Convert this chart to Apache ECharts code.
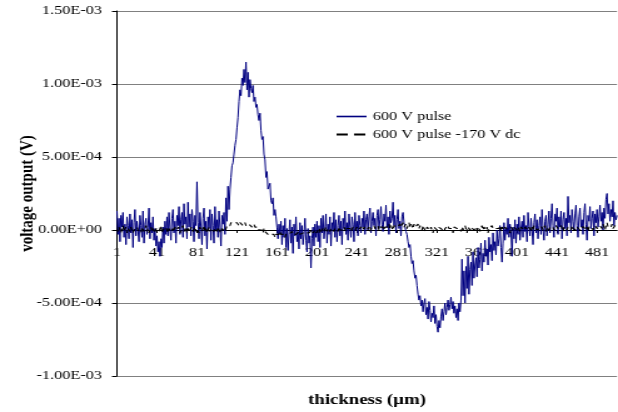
<!DOCTYPE html>
<html>
<head>
<meta charset="utf-8">
<script src="https://cdn.jsdelivr.net/npm/echarts@6/dist/echarts.min.js"></script>
<style>
  html, body { margin: 0; padding: 0; background: #fff; overflow: hidden; }
  /* chart is laid out narrower and widened horizontally, giving the wide serif lettering */
  #chart { width: 494px; height: 412px; transform: scaleX(1.2510); transform-origin: 0 0; }
</style>
</head>
<body>
<div id="chart"></div>
<script>
// Signal values in units of 1e-5 V, one per thickness step (1 ... 501 µm)
const UNIT = 1e-5;

const pulse600 = [
  13,-3,8,-8,10,2,12,-5,4,-10,9,3,-6,11,-2,7,-12,5,14,-4,
  6,0,-8,10,3,-5,13,-9,4,8,-3,2,15,-6,5,-2,9,-7,1,-11,
  -4,-15,-8,-18,-6,-12,2,-9,6,-3,
  9,-4,12,1,-7,8,14,-2,6,-9,10,3,16,-3,7,12,-5,18,4,9,
  -6,19,2,11,-4,14,6,-8,10,3,
  33,5,-6,12,2,-10,8,15,-4,6,-13,9,1,14,-7,11,3,-9,16,0,
  7,-5,13,2,-11,10,4,12,-3,22,6,30,14,
  28,36,44,46,52,58,62,70,77,88,96,92,104,99,110,101,115,
  96,108,91,103,97,94,99,88,91,84,
  86,79,75,80,68,62,64,52,48,36,40,28,27,32,20,18,22,10,14,9,2,-6,4,-3,
  6,-10,3,-5,8,-12,1,-14,-2,7,-9,2,-16,4,-4,9,-8,-1,-13,5,
  -6,3,-10,-3,8,-7,-15,1,-9,-4,-26,-6,2,-11,4,-5,
  6,-8,3,-12,8,-2,10,-6,1,11,-9,4,-3,9,-11,5,0,12,-5,7,
  -8,3,10,-4,6,-10,8,1,13,-3,5,-7,11,2,-5,9,4,-8,12,0,
  6,-4,10,3,-2,
  8,2,13,-3,7,11,0,9,15,-2,6,12,3,8,-4,10,14,1,7,16,
  4,-1,11,6,17,2,9,-3,13,5,8,19,3,10,-2,7,14,1,6,-4,
  9,12,5,2,-1,
  -3,-8,-12,-10,-18,-23,-21,-28,-33,-31,-38,-44,-48,
  -45,-52,-48,-56,-50,-47,-58,-53,-61,-49,-55,-63,-57,-60,-52,-64,-58,-66,-70,-62,
  -67,-59,-54,-62,-56,-50,-58,-53,-48,-55,-51,-46,-54,-49,-57,-52,-60,-54,-62,-50,
  -56,-48,
  -20,-45,-28,-50,-25,-40,-18,-44,-27,-22,-38,-15,-33,-24,-19,-32,-12,-26,-20,-9,
  -28,-16,-22,-7,-18,-13,-24,-5,-15,-10,-21,-2,-14,-8,-17,0,-11,-6,3,-12,
  -22,-9,5,-7,1,-3,8,-5,4,-1,
  -18,2,-6,7,-9,
  4,-3,9,-7,1,6,-5,10,-1,3,-8,12,2,-4,8,0,-10,5,11,-2,
  7,-6,3,9,-3,14,1,-7,6,10,-4,4,13,-2,8,18,3,-5,11,6,
  15,-3,9,2,13,-6,7,12,1,8,-4,23,5,10,-2,14,6,0,11,17,
  3,-5,9,15,2,7,-3,12,18,4,-7,10,6,16,1,8,13,-4,11,5,
  14,2,9,17,6,12,0,15,8,21,25,11,18,6,14,9,20,3,12,7,10
];

const pulse600dc170 = [
  1,-1,2,0,-2,1,3,-1,0,2,-2,1,0,-1,2,1,-2,0,1,-1,
  2,0,-1,1,-2,2,1,-1,0,3,-1,1,-2,0,2,-1,1,0,-2,1,
  0,2,-1,1,3,-2,0,1,-1,2,0,-2,1,2,-1,0,1,-1,2,0,
  -1,1,2,-2,0,1,3,-1,0,2,-2,1,0,-1,2,1,-1,0,2,-1,
  1,0,-2,2,1,-1,0,3,-1,1,-2,0,2,-1,1,0,2,-1,1,0,
  -1,2,0,1,-2,1,2,0,-1,1,3,2,4,3,5,4,6,5,4,6,
  5,4,3,5,4,6,3,4,5,3,4,2,4,3,5,2,3,4,2,3,
  1,2,0,1,-1,0,-2,1,-1,0,-2,-3,-2,-4,-3,-2,-4,-3,-5,-3,
  -2,-4,-3,-1,-3,-4,-2,-3,-5,-3,-2,-4,-3,-2,-4,-1,-3,-2,-4,-3,
  -2,-3,-1,-3,-2,-4,-2,-1,-3,-2,-1,-3,-2,-1,-2,0,-2,-1,0,-2,
  -1,0,-2,1,-1,0,1,-1,0,2,-1,1,0,-1,1,0,2,-1,1,0,
  1,-1,2,0,1,-1,0,2,1,-1,1,0,2,1,-1,0,2,1,0,1,
  2,0,1,-1,2,1,0,2,1,3,0,1,2,-1,1,2,0,3,1,2,
  1,3,0,2,1,3,2,0,2,3,1,2,4,1,3,2,0,3,2,4,
  2,3,1,4,2,3,5,2,3,4,1,3,5,2,4,3,1,4,2,3,
  2,4,1,3,2,0,3,1,2,-1,2,1,3,0,2,1,-2,2,1,3,
  0,2,1,3,1,0,2,-1,1,2,0,3,1,2,0,1,-2,2,1,3,
  1,0,2,1,-1,2,0,1,3,1,-2,2,1,0,2,1,3,0,1,2,
  0,1,2,-1,1,3,0,2,1,0,2,-2,1,2,0,3,1,2,0,1,
  2,0,1,3,-1,2,1,0,2,1,3,0,1,-2,2,1,0,2,3,1,
  0,2,1,-1,2,3,1,0,2,1,3,0,2,1,-1,2,0,3,1,2,
  1,0,2,3,1,2,0,1,3,-1,2,1,0,2,3,1,2,0,1,3,
  2,1,0,2,3,1,-1,2,1,3,0,2,1,2,0,3,1,2,1,0,
  2,3,1,0,2,1,3,2,0,1,2,-1,2,3,1,2,0,1,3,2,
  1,2,0,3,2,1,4,2,0,3,5,2,1,3,2,4,1,2,3,2,
  2
];

// Thickness categories 1 ... 501 µm
const thickness = Array.from({ length: pulse600.length }, (_, i) => String(i + 1));

const seriesNames = ['600 V pulse', '600 V pulse -170 V dc'];
const yTicks = { min: -0.001, max: 0.0015, step: 0.0005 };

function sci(v) {
  if (Math.abs(v) < 1e-12) return '0.00E+00';
  const e = Math.floor(Math.log10(Math.abs(v)) + 1e-9);
  const m = v / Math.pow(10, e);
  return m.toFixed(2) + 'E' + (e < 0 ? '-' : '+') + String(Math.abs(e)).padStart(2, '0');
}

const FONT = '"Liberation Serif", "Times New Roman", serif';
const GRID = { left: 93.5, right: 0.8, top: 11, bottom: 36 };
const H = 412;
// distance from the plot's bottom edge up to the zero line
const plotH = H - GRID.top - GRID.bottom;
const zeroLift = plotH * (0 - yTicks.min) / (yTicks.max - yTicks.min);

const chart = echarts.init(document.getElementById('chart'), null, { renderer: 'canvas' });

chart.setOption({
  animation: false,
  backgroundColor: '#ffffff',
  textStyle: { fontFamily: FONT, color: '#000' },
  grid: Object.assign({ containLabel: false, outerBoundsMode: 'none' }, GRID),
  legend: {
    show: true,
    orient: 'vertical',
    left: 268,
    top: 110,
    padding: 0,
    itemWidth: 24,
    itemHeight: 14,
    itemGap: 5,
    itemStyle: { opacity: 0, color: 'transparent', borderWidth: 0 },
    textStyle: { fontFamily: FONT, fontSize: 13, color: '#000' },
    data: [
      { name: seriesNames[0], lineStyle: { width: 1.6 } },
      { name: seriesNames[1], lineStyle: { width: 2, type: [9, 5] } }
    ]
  },
  xAxis: {
    type: 'category',
    data: thickness,
    boundaryGap: false,
    position: 'bottom',
    offset: -zeroLift,
    name: 'thickness (\u00b5m)',
    nameLocation: 'middle',
    nameGap: 163,
    nameMoveOverlap: false,
    nameTextStyle: { fontFamily: FONT, fontSize: 15, fontWeight: 'bold', color: '#000' },
    axisLine: { onZero: false, lineStyle: { color: '#000', width: 1 } },
    axisTick: { show: true, interval: 39, length: 3, lineStyle: { color: '#000' } },
    axisLabel: { interval: 39, margin: 16, fontFamily: FONT, fontSize: 13, color: '#000' },
    splitLine: { show: false }
  },
  yAxis: {
    type: 'value',
    min: yTicks.min,
    max: yTicks.max,
    interval: yTicks.step,
    name: 'voltage output (V)',
    nameLocation: 'middle',
    nameGap: 64,
    nameMoveOverlap: false,
    nameTextStyle: { fontFamily: FONT, fontSize: 15, fontWeight: 'bold', color: '#000' },
    axisLine: { show: true, onZero: false, lineStyle: { color: '#000', width: 1 } },
    axisTick: { show: true, length: 4, lineStyle: { color: '#000' } },
    axisLabel: { margin: 12, fontFamily: FONT, fontSize: 13, color: '#000', formatter: sci },
    splitLine: { show: true, lineStyle: { color: '#808080', width: 1 } }
  },
  series: [
    {
      name: seriesNames[0],
      type: 'line',
      data: pulse600.map(v => v * UNIT),
      symbol: 'none',
      color: '#000080',
      lineStyle: { color: '#000080', width: 1.0 },
      z: 3
    },
    {
      name: seriesNames[1],
      type: 'line',
      data: pulse600dc170.map(v => v * UNIT),
      symbol: 'none',
      color: '#000',
      lineStyle: { color: '#000', width: 1.1, type: [4, 3] },
      z: 4
    }
  ]
});
</script>
</body>
</html>
